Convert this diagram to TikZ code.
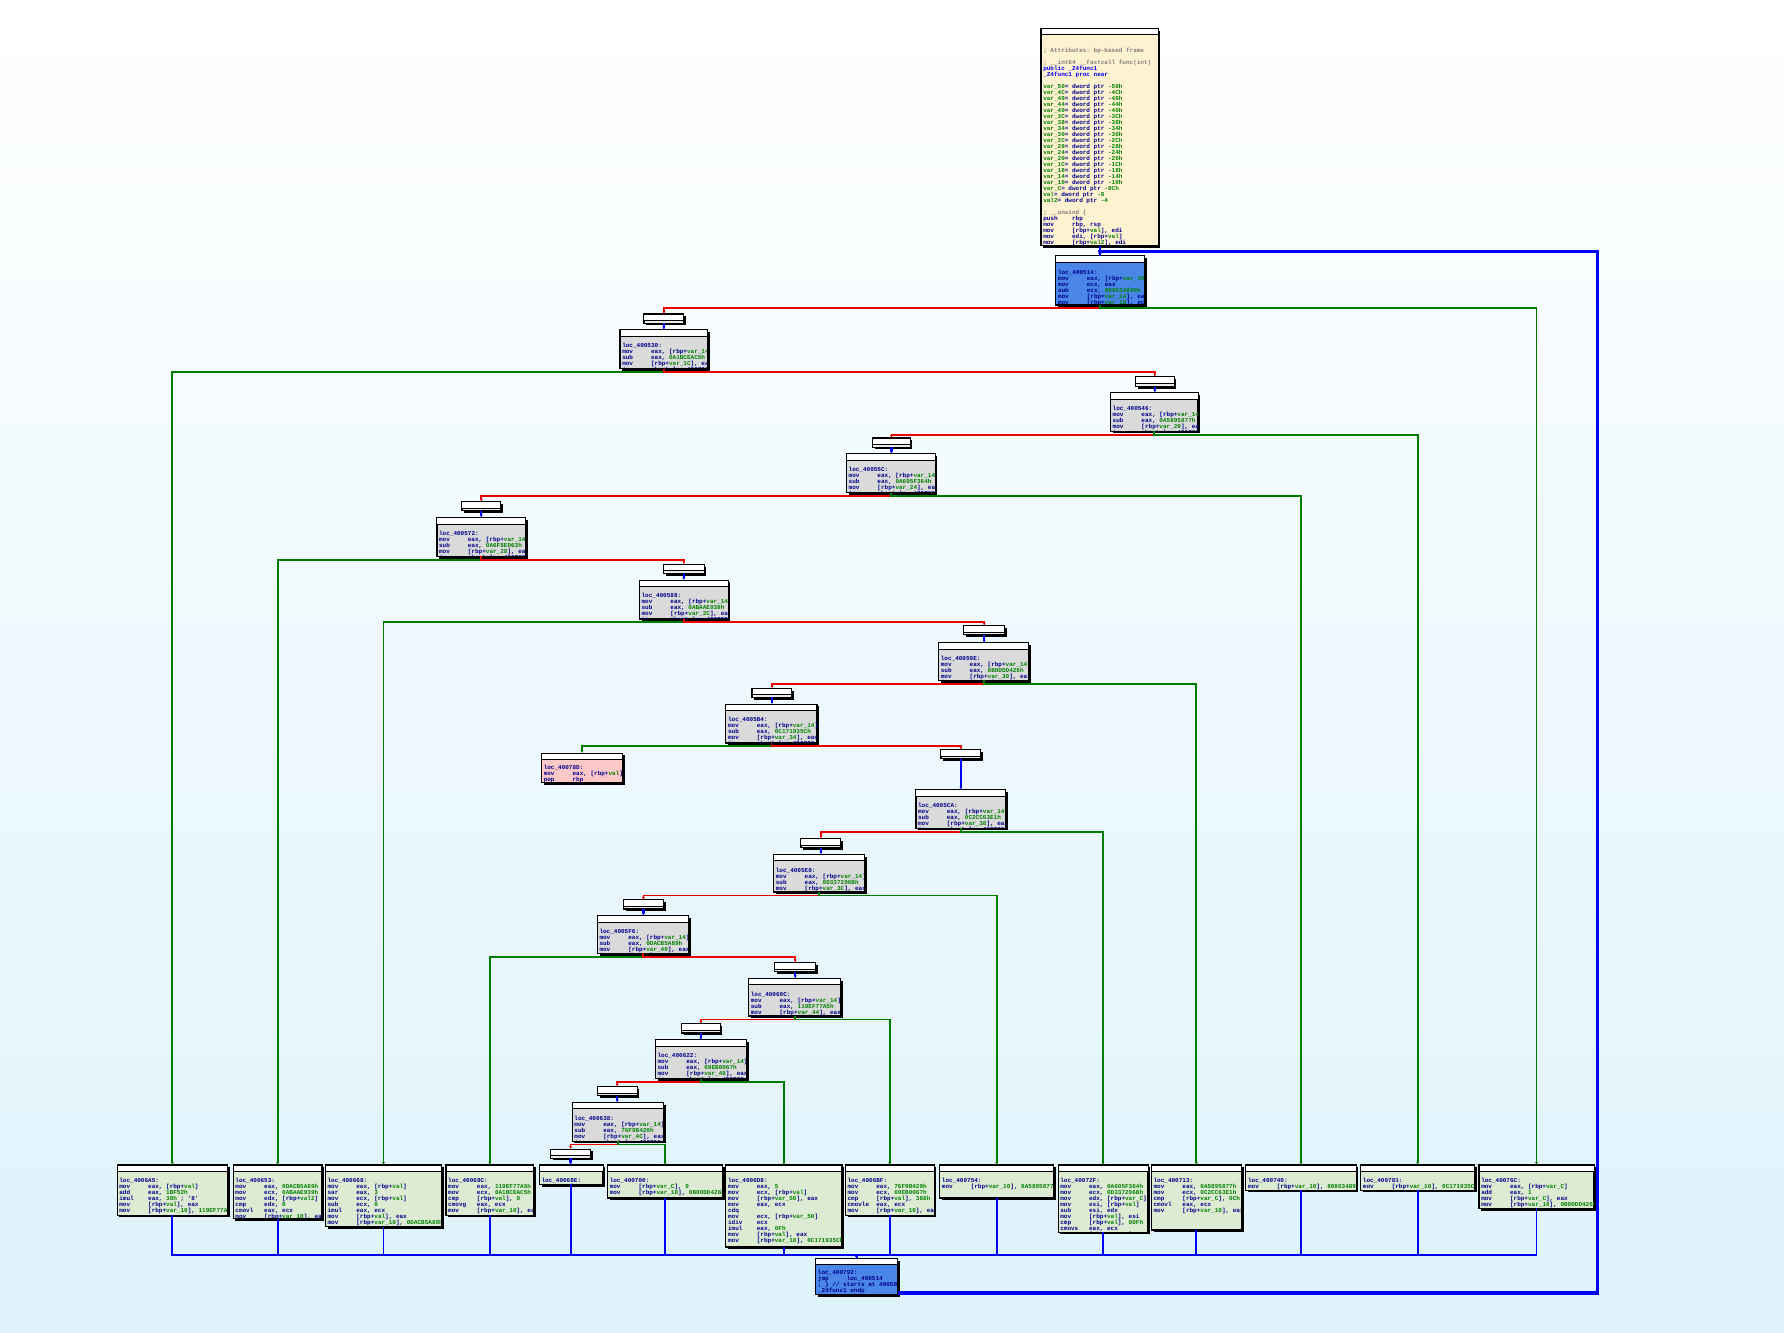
\documentclass[tikz,border=0pt]{standalone}
\usepackage{fontspec}
\setmonofont{Liberation Mono}
\usetikzlibrary{arrows.meta,fit,shadows}
\definecolor{inavy}{RGB}{0,0,140}
\definecolor{igreen}{RGB}{0,128,0}
\definecolor{igray}{RGB}{128,128,128}
\definecolor{iblue}{RGB}{0,0,255}
\definecolor{ered}{RGB}{235,0,0}
\definecolor{egreen}{RGB}{0,125,0}
\definecolor{eblue}{RGB}{0,0,245}
\definecolor{fcream}{RGB}{255,242,208}
\definecolor{fblue}{RGB}{74,134,232}
\definecolor{fgray}{RGB}{218,218,218}
\definecolor{fsmall}{RGB}{235,235,235}
\definecolor{fgreen}{RGB}{221,235,211}
\definecolor{fpink}{RGB}{255,200,200}
\definecolor{bgbot}{RGB}{222,243,251}
\newcommand\OP[2]{\makebox[28.8pt][l]{#1}#2}
\newcommand\Vg[1]{\textcolor{igreen}{#1}}
\newcommand\VL[2]{\Vg{var\_#1}= dword ptr \Vg{-#2}}
\newcommand\blk[6]{%
  \node[blkbox, fill=#6, fit={(#2,#3) (#4,#5)}] (#1) {};
  \draw[fill=white, line width=1pt] (#1.north west) rectangle ([yshift=-6.5pt]#1.north east);
}
\newcommand\btxt[3][13pt]{%
  \begin{scope}
  \clip ([xshift=0.8pt,yshift=0.8pt]#2.south west) rectangle ([xshift=-0.8pt,yshift=-7pt]#2.north east);
  \node[asmtxt, anchor=north west] at ([xshift=2pt,yshift=-#1]#2.north west) {#3};
  \end{scope}}
\newcommand\gblk[4]{%
 \btxt{#1}{loc\_#2:\\
 \OP{mov}{eax, [rbp+\Vg{var\_14}]}\\
 \OP{sub}{eax, \Vg{#3}}\\
 \OP{mov}{[rbp+\Vg{var\_#4}], eax}\\
 \OP{jz}{short loc\_400700}}}
\tikzset{
 blkbox/.style={draw=black, line width=1.2pt, inner sep=0pt, outer sep=0pt,
   drop shadow={shadow xshift=2.2pt, shadow yshift=-2.2pt, fill=black, opacity=1}},
 asmtxt/.style={inner sep=0pt, align=left, text=inavy,
   font=\ttfamily\bfseries\fontsize{6}{6}\selectfont},
 redE/.style={draw=ered, line width=1.8pt, -{Latex[length=3pt,width=3pt]}},
 greenE/.style={draw=egreen, line width=1.8pt, -{Latex[length=3pt,width=3pt]}},
 blueE/.style={draw=eblue, line width=2.2pt, -{Latex[length=3pt,width=3pt]}},
 backE/.style={draw=eblue, line width=3.8pt, -{Latex[length=4pt,width=4pt]}},
}
\begin{document}
\begin{tikzpicture}[x=1.1378pt, y=-1.1378pt]
\useasboundingbox (0,0) rectangle (1568,1171);
\shade[top color=white, bottom color=bgbot] (0,0) rectangle (1568,1171);

% ---------- blocks ----------
\blk{A}{915}{25}{1018}{216}{fcream}
\btxt[19pt]{A}{\textcolor{igray}{; Attributes: bp-based frame}\\
\mbox{}\\
\textcolor{igray}{; \_\_int64 \_\_fastcall func(int)}\\
\textcolor{iblue}{public \_Z4func1}\\
\textcolor{iblue}{\_Z4func1 proc near}\\
\mbox{}\\
\VL{50}{50h}\\ \VL{4C}{4Ch}\\ \VL{48}{48h}\\ \VL{44}{44h}\\ \VL{40}{40h}\\
\VL{3C}{3Ch}\\ \VL{38}{38h}\\ \VL{34}{34h}\\ \VL{30}{30h}\\ \VL{2C}{2Ch}\\
\VL{28}{28h}\\ \VL{24}{24h}\\ \VL{20}{20h}\\ \VL{1C}{1Ch}\\ \VL{18}{18h}\\
\VL{14}{14h}\\ \VL{10}{10h}\\
\Vg{var\_C}= dword ptr \Vg{-0Ch}\\
\Vg{val}= dword ptr \Vg{-8}\\
\Vg{val2}= dword ptr \Vg{-4}\\
\mbox{}\\
\textcolor{igray}{; \_\_unwind \{}\\
\OP{push}{rbp}\\
\OP{mov}{rbp, rsp}\\
\OP{mov}{[rbp+\Vg{val}], edi}\\
\OP{mov}{edi, [rbp+\Vg{val}]}\\
\OP{mov}{[rbp+\Vg{val2}], edi}\\
\OP{mov}{[rbp+\Vg{var\_10}], \Vg{0A1BCEAC5h}}}

\blk{B}{928}{225}{1006}{268}{fblue}
\btxt[14pt]{B}{loc\_400514:\\
\OP{mov}{eax, [rbp+\Vg{var\_10}]}\\
\OP{mov}{ecx, eax}\\
\OP{sub}{ecx, \Vg{808634895h}}\\
\OP{mov}{[rbp+\Vg{var\_14}], eax}\\
\OP{mov}{[rbp+\Vg{var\_18}], ecx}\\
\OP{jz}{loc\_400740}}

\blk{C}{566}{276}{601}{284}{fsmall}
\blk{D}{545}{290}{622}{324}{fgray}\gblk{D}{400530}{0A1BCEAC5h}{1C}
\blk{E}{998}{331}{1032}{340}{fsmall}
\blk{F}{976}{345}{1053}{379}{fgray}\gblk{F}{400546}{0A5895877h}{20}
\blk{G}{767}{385}{800}{393}{fsmall}
\blk{H}{744}{399}{822}{433}{fgray}\gblk{H}{40055C}{0A605F364h}{24}
\blk{I}{406}{441}{440}{449}{fsmall}
\blk{J}{384}{455}{462}{489}{fgray}\gblk{J}{400572}{0A6F8ED63h}{28}
\blk{K}{583}{496}{619}{504}{fsmall}
\blk{L}{562}{510}{640}{544}{fgray}\gblk{L}{400588}{0ABAAE939h}{2C}
\blk{M}{847}{550}{883}{558}{fsmall}
\blk{N}{825}{565}{904}{598}{fgray}\gblk{N}{40059E}{0B0DDD426h}{30}
\blk{O}{661}{605}{696}{613}{fsmall}
\blk{P}{638}{619}{718}{653}{fgray}\gblk{P}{4005B4}{0C171935Ch}{34}
\blk{Q}{476}{662}{547}{688}{fpink}
\btxt[12pt]{Q}{loc\_40078D:\\
\OP{mov}{eax, [rbp+\Vg{val}]}\\
\OP{pop}{rbp}\\
\OP{retn}{}}
\blk{R}{827}{659}{862}{667}{fsmall}
\blk{S}{805}{694}{884}{728}{fgray}\gblk{S}{4005CA}{0C2CC63E1h}{38}
\blk{T}{704}{737}{739}{745}{fsmall}
\blk{U}{680}{751}{760}{784}{fgray}\gblk{U}{4005E0}{0D337296Bh}{3C}
\blk{V}{548}{791}{583}{799}{fsmall}
\blk{W}{525}{805}{605}{838}{fgray}\gblk{W}{4005F6}{0DACB5A89h}{40}
\blk{X}{681}{846}{717}{854}{fsmall}
\blk{Y}{658}{860}{739}{893}{fgray}\gblk{Y}{40060C}{119EF77A5h}{44}
\blk{Z}{599}{900}{633}{908}{fsmall}
\blk{AA}{576}{914}{656}{948}{fgray}\gblk{AA}{400622}{69EB0067h}{48}
\blk{AB}{525}{955}{560}{963}{fsmall}
\blk{AC}{503}{969}{583}{1003}{fgray}\gblk{AC}{400638}{76F9B420h}{4C}
\blk{AD}{484}{1010}{519}{1018}{fsmall}

% bottom row
\blk{B1}{103}{1024}{200}{1068}{fgreen}
\btxt{B1}{loc\_4006A5:\\
\OP{mov}{eax, [rbp+\Vg{val}]}\\
\OP{add}{eax, \Vg{1BF52h}}\\
\OP{imul}{eax, \Vg{38h} ; '8'}\\
\OP{mov}{[rbp+\Vg{val}], eax}\\
\OP{mov}{[rbp+\Vg{var\_10}], \Vg{119EF77A5h}}}
\blk{B2}{205}{1024}{283}{1071}{fgreen}
\btxt{B2}{loc\_400653:\\
\OP{mov}{eax, \Vg{0DACB5A89h}}\\
\OP{mov}{ecx, \Vg{0ABAAE939h}}\\
\OP{mov}{edx, [rbp+\Vg{val2}]}\\
\OP{cmp}{edx, \Vg{0}}\\
\OP{cmovl}{eax, ecx}\\
\OP{mov}{[rbp+\Vg{var\_10}], eax}}
\blk{B3}{286}{1024}{388}{1078}{fgreen}
\btxt{B3}{loc\_400668:\\
\OP{mov}{eax, [rbp+\Vg{val}]}\\
\OP{sar}{eax, \Vg{3}}\\
\OP{mov}{ecx, [rbp+\Vg{val}]}\\
\OP{sub}{ecx, \Vg{0}}\\
\OP{imul}{eax, ecx}\\
\OP{mov}{[rbp+\Vg{val}], eax}\\
\OP{mov}{[rbp+\Vg{var\_10}], \Vg{0DACB5A89h}}}
\blk{B4}{392}{1024}{469}{1068}{fgreen}
\btxt{B4}{loc\_40068C:\\
\OP{mov}{eax, \Vg{119EF77A5h}}\\
\OP{mov}{ecx, \Vg{0A1BCEAC5h}}\\
\OP{cmp}{[rbp+\Vg{val}], \Vg{0}}\\
\OP{cmovg}{eax, ecx}\\
\OP{mov}{[rbp+\Vg{var\_10}], eax}}
\blk{B5}{474}{1024}{530}{1041}{fgreen}
\btxt{B5}{loc\_40068E:\\
\OP{jmp}{loc\_400792}}
\blk{B6}{534}{1024}{635}{1053}{fgreen}
\btxt{B6}{loc\_400700:\\
\OP{mov}{[rbp+\Vg{var\_C}], \Vg{0}}\\
\OP{mov}{[rbp+\Vg{var\_10}], \Vg{0B0DDD426h}}}
\blk{B7}{638}{1024}{740}{1096}{fgreen}
\btxt{B7}{loc\_4006D8:\\
\OP{mov}{eax, \Vg{5}}\\
\OP{mov}{ecx, [rbp+\Vg{val}]}\\
\OP{mov}{[rbp+\Vg{var\_50}], eax}\\
\OP{mov}{eax, ecx}\\
\OP{cdq}{}\\
\OP{mov}{ecx, [rbp+\Vg{var\_50}]}\\
\OP{idiv}{ecx}\\
\OP{imul}{eax, \Vg{0Fh}}\\
\OP{mov}{[rbp+\Vg{val}], eax}\\
\OP{mov}{[rbp+\Vg{var\_10}], \Vg{0C171935Ch}}}
\blk{B8}{743}{1024}{821}{1068}{fgreen}
\btxt{B8}{loc\_4006BF:\\
\OP{mov}{eax, \Vg{76F9B420h}}\\
\OP{mov}{ecx, \Vg{69EB0067h}}\\
\OP{cmp}{[rbp+\Vg{val}], \Vg{388h}}\\
\OP{cmovle}{eax, ecx}\\
\OP{mov}{[rbp+\Vg{var\_10}], eax}}
\blk{B9}{826}{1024}{926}{1053}{fgreen}
\btxt{B9}{loc\_400754:\\
\OP{mov}{[rbp+\Vg{var\_10}], \Vg{0A5895877h}}}
\blk{B10}{930}{1024}{1009}{1083}{fgreen}
\btxt{B10}{loc\_40072F:\\
\OP{mov}{eax, \Vg{0A605F364h}}\\
\OP{mov}{ecx, \Vg{0D337296Bh}}\\
\OP{mov}{edx, [rbp+\Vg{var\_C}]}\\
\OP{mov}{esi, [rbp+\Vg{val}]}\\
\OP{sub}{esi, edx}\\
\OP{mov}{[rbp+\Vg{val}], esi}\\
\OP{cmp}{[rbp+\Vg{val}], \Vg{0DFh}}\\
\OP{cmovs}{eax, ecx}\\
\OP{mov}{[rbp+\Vg{var\_10}], eax}}
\blk{B11}{1012}{1024}{1091}{1081}{fgreen}
\btxt{B11}{loc\_400713:\\
\OP{mov}{eax, \Vg{0A5895877h}}\\
\OP{mov}{ecx, \Vg{0C2CC63E1h}}\\
\OP{cmp}{[rbp+\Vg{var\_C}], \Vg{0Ch}}\\
\OP{cmovl}{eax, ecx}\\
\OP{mov}{[rbp+\Vg{var\_10}], eax}}
\blk{B12}{1095}{1024}{1192}{1046}{fgreen}
\btxt{B12}{loc\_400740:\\
\OP{mov}{[rbp+\Vg{var\_10}], \Vg{808634895h}}}
\blk{B13}{1196}{1024}{1296}{1046}{fgreen}
\btxt{B13}{loc\_400781:\\
\OP{mov}{[rbp+\Vg{var\_10}], \Vg{0C171935Ch}}}
\blk{B14}{1300}{1024}{1401}{1062}{fgreen}
\btxt{B14}{loc\_40076C:\\
\OP{mov}{eax, [rbp+\Vg{var\_C}]}\\
\OP{add}{eax, \Vg{1}}\\
\OP{mov}{[rbp+\Vg{var\_C}], eax}\\
\OP{mov}{[rbp+\Vg{var\_10}], \Vg{0B0DDD426h}}}

\blk{End}{717}{1106}{789}{1138}{fblue}
\btxt[12pt]{End}{loc\_400792:\\
\OP{jmp}{loc\_400514}\\
\textcolor{inavy}{; \} // starts at 400500}\\
\_Z4func1 endp}

% ---------- edges ----------
\draw[blueE] (A.south) -- (A.south |- B.north);
\draw[redE] (B.south) -- ++(0,3) -| (C.north);
\draw[greenE] (B.south) -- ++(0,3) -| (B14.north);
\draw[blueE] (C.south) -- (C.south |- D.north);
\draw[greenE] (D.south) -- ++(0,3) -| (B1.north);
\draw[redE] (D.south) -- ++(0,3) -| (E.north);
\draw[blueE] (E.south) -- (E.south |- F.north);
\draw[redE] (F.south) -- ++(0,3) -| (G.north);
\draw[greenE] (F.south) -- ++(0,3) -| (B13.north);
\draw[blueE] (G.south) -- (G.south |- H.north);
\draw[redE] (H.south) -- ++(0,3) -| (I.north);
\draw[greenE] (H.south) -- ++(0,3) -| (B12.north);
\draw[blueE] (I.south) -- (I.south |- J.north);
\draw[greenE] (J.south) -- ++(0,3) -| (B2.north);
\draw[redE] (J.south) -- ++(0,3) -| (K.north);
\draw[blueE] (K.south) -- (K.south |- L.north);
\draw[greenE] (L.south) -- ++(0,3) -| (B3.north);
\draw[redE] (L.south) -- ++(0,3) -| (M.north);
\draw[blueE] (M.south) -- (M.south |- N.north);
\draw[redE] (N.south) -- ++(0,3) -| (O.north);
\draw[greenE] (N.south) -- ++(0,3) -| (B11.north);
\draw[blueE] (O.south) -- (O.south |- P.north);
\draw[greenE] (P.south) -- ++(0,3) -| (Q.north);
\draw[redE] (P.south) -- ++(0,3) -| (R.north);
\draw[blueE] (R.south) -- (R.south |- S.north);
\draw[redE] (S.south) -- ++(0,3) -| (T.north);
\draw[greenE] (S.south) -- ++(0,3) -| (B10.north);
\draw[blueE] (T.south) -- (T.south |- U.north);
\draw[redE] (U.south) -- ++(0,3) -| (V.north);
\draw[greenE] (U.south) -- ++(0,3) -| (B9.north);
\draw[blueE] (V.south) -- (V.south |- W.north);
\draw[greenE] (W.south) -- ++(0,3) -| (B4.north);
\draw[redE] (W.south) -- ++(0,3) -| (X.north);
\draw[blueE] (X.south) -- (X.south |- Y.north);
\draw[redE] (Y.south) -- ++(0,3) -| (Z.north);
\draw[greenE] (Y.south) -- ++(0,3) -| (B8.north);
\draw[blueE] (Z.south) -- (Z.south |- AA.north);
\draw[redE] (AA.south) -- ++(0,3) -| (AB.north);
\draw[greenE] (AA.south) -- ++(0,3) -| (B7.north);
\draw[blueE] (AB.south) -- (AB.south |- AC.north);
\draw[redE] (AC.south) -- ++(0,3) -| (AD.north);
\draw[greenE] (AC.south) -- ++(0,3) -| (B6.north);
\draw[blueE] (AD.south) -- (AD.south |- B5.north);
\foreach \b in {B1,B2,B3,B4,B5,B6,B7,B8,B9,B10,B11,B12,B13,B14}
  \draw[blueE, line width=1.8pt] (\b.south) |- ([yshift=3pt]End.north) -- (End.north);
\draw[backE] ([yshift=2pt]End.south east) -- ++(10,0) -| (1404,221) -| (B.north);
\end{tikzpicture}
\end{document}
